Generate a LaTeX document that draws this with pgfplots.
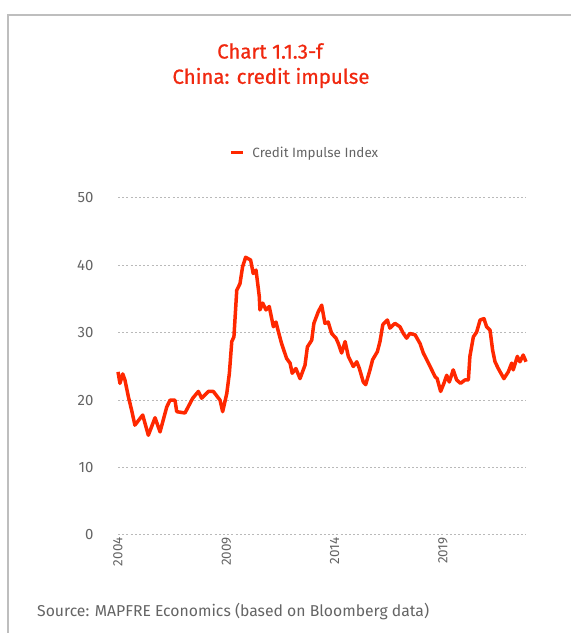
\documentclass[border=0pt]{standalone}
\usepackage{pgfplots}
\pgfplotsset{compat=1.18}
\usepackage{fontspec}
\setmainfont{Fira Sans}
\newfontfamily\titlefont[FakeBold=0.8]{Fira Sans}
\definecolor{mred}{RGB}{255,40,0}
\definecolor{tred}{RGB}{240,40,15}
\definecolor{framegray}{RGB}{190,190,190}
\definecolor{gridgray}{RGB}{185,185,185}
\definecolor{textgray}{RGB}{100,100,100}
\pgfplotstableread{
year val
2004.00 24.2
2004.09 22.5
2004.22 23.9
2004.32 23.0
2004.48 20.5
2004.63 18.5
2004.78 16.3
2005.14 17.8
2005.40 14.8
2005.71 17.4
2005.94 15.3
2006.25 19.0
2006.40 20.0
2006.63 20.0
2006.71 18.3
2007.09 18.1
2007.45 20.3
2007.71 21.3
2007.86 20.3
2008.17 21.3
2008.40 21.3
2008.71 20.0
2008.83 18.3
2009.02 21.0
2009.14 24.0
2009.25 28.7
2009.35 29.4
2009.48 36.3
2009.63 37.3
2009.75 39.8
2009.89 41.2
2010.12 40.8
2010.24 38.8
2010.37 39.3
2010.52 35.4
2010.55 33.4
2010.68 34.4
2010.83 33.4
2010.98 33.9
2011.17 30.9
2011.29 31.6
2011.40 30.2
2011.55 28.4
2011.78 26.2
2011.94 25.5
2012.04 24.0
2012.21 24.7
2012.40 23.2
2012.63 25.2
2012.74 27.9
2012.94 28.9
2013.04 31.4
2013.24 33.1
2013.40 34.1
2013.55 31.4
2013.70 31.6
2013.86 29.9
2014.06 29.2
2014.17 28.4
2014.32 27.0
2014.48 28.7
2014.63 26.5
2014.86 25.0
2015.02 25.7
2015.14 24.7
2015.32 22.7
2015.43 22.3
2015.63 24.5
2015.75 26.0
2015.97 27.2
2016.09 28.7
2016.22 31.2
2016.43 31.9
2016.55 30.7
2016.78 31.4
2017.01 30.9
2017.17 29.9
2017.32 29.2
2017.47 29.9
2017.71 29.7
2017.94 28.4
2018.09 27.0
2018.25 26.0
2018.48 24.5
2018.63 23.5
2018.73 23.2
2018.89 21.3
2019.04 22.5
2019.17 23.7
2019.29 22.7
2019.47 24.5
2019.63 23.0
2019.81 22.5
2020.01 23.0
2020.17 23.0
2020.24 26.5
2020.40 29.4
2020.55 30.1
2020.71 31.9
2020.89 32.1
2021.01 30.9
2021.17 30.4
2021.29 27.4
2021.40 25.7
2021.55 24.7
2021.81 23.2
2022.01 24.2
2022.17 25.5
2022.24 24.5
2022.43 26.5
2022.55 25.7
2022.70 26.7
2022.83 25.7
}\ci
\begin{document}
\begin{tikzpicture}[x=1bp,y=1bp]
\path[use as bounding box] (0,0) rectangle (571,633);
\draw[framegray, line width=2bp] (8,0) -- (8,618) -- (571,618);
\node[tred, font=\titlefont\fontsize{20.5}{24}\selectfont] at (270,582) {Chart 1.1.3-f};
\node[tred, font=\titlefont\fontsize{20.5}{24}\selectfont] at (271,555) {China: credit impulse};
\node[textgray, anchor=base west, inner sep=0pt, font=\fontsize{15.8}{18}\selectfont] at (37,16) {Source: MAPFRE Economics (based on Bloomberg data)};
\begin{axis}[
  at={(118bp,98bp)}, anchor=south west,
  scale only axis, width=408bp, height=337bp,
  xmin=2004, xmax=2022.83, ymin=0, ymax=50,
  clip=false,
  axis line style={draw=none},
  tick style={draw=none},
  xtick={2004,2009,2014,2019},
  ytick={0,10,20,30,40,50},
  xticklabel style={rotate=90, anchor=east, font=\fontsize{13.5}{15}\selectfont, text=textgray, inner sep=2bp},
  yticklabel style={font=\fontsize{15}{17}\selectfont, text=textgray, xshift=-21bp},
  /pgf/number format/assume math mode=true,
  xticklabel={\pgfmathprintnumber[1000 sep={}]{\tick}},
  ymajorgrids,
  grid style={gridgray, line width=1bp, dash pattern=on 2bp off 2.2bp},
  legend style={at={(0.458,1.134)}, anchor=center, draw=none, fill=none,
    font=\fontsize{13.5}{15}\selectfont, text=textgray},
  legend cell align=left,
  legend image code/.code={\draw[line width=3bp] (0bp,0bp) -- (12bp,0bp);},
]
\addplot[mred, line width=3.5bp, line join=round] table[x=year,y=val] {\ci};
\addlegendentry{\hspace{6bp}Credit Impulse Index}
\end{axis}
\end{tikzpicture}
\end{document}
